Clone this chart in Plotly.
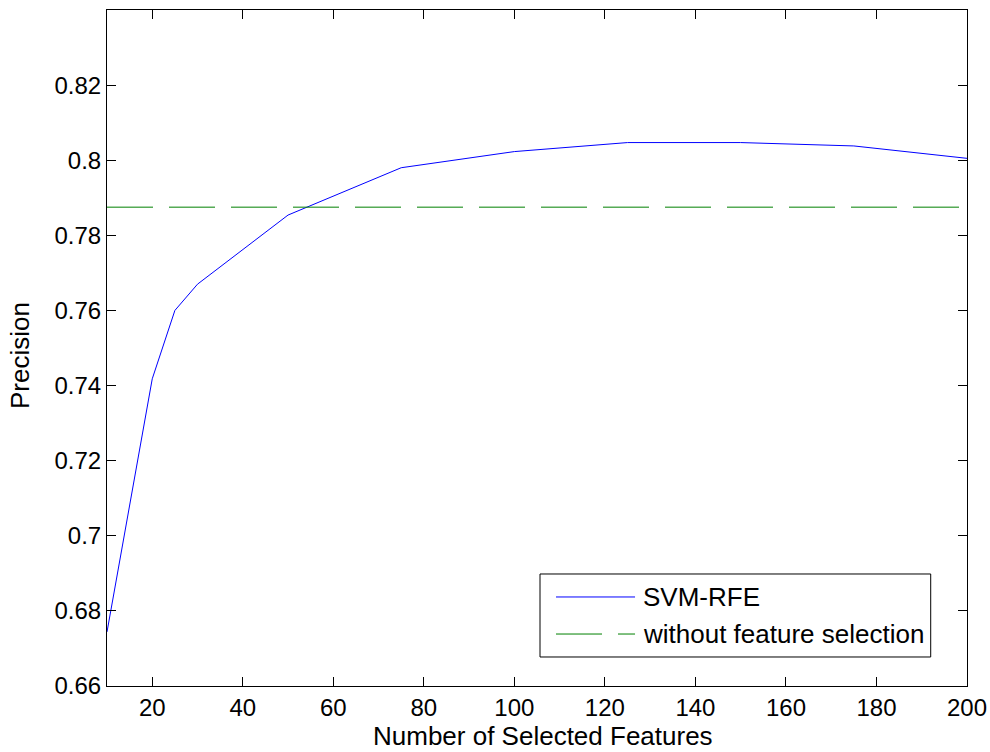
import plotly.graph_objects as go

# Feature-count sweep for SVM-RFE and the baseline precision without selection
n_features = [10, 20, 25, 30, 50, 75, 100, 125, 150, 175, 200]
svm_rfe_precision = [0.6744, 0.7418, 0.7600, 0.7670, 0.7854, 0.7980, 0.8023, 0.8047, 0.8047, 0.8038, 0.8005]
baseline_precision = 0.7875

x_ticks = [20, 40, 60, 80, 100, 120, 140, 160, 180, 200]
y_ticks = [0.66, 0.68, 0.70, 0.72, 0.74, 0.76, 0.78, 0.80, 0.82]
y_tick_labels = ["0.66", "0.68", "0.7", "0.72", "0.74", "0.76", "0.78", "0.8", "0.82"]

series_names = ["SVM-RFE", "without feature selection"]
series_colors = ["#0000ff", "#008000"]
series_dash = ["solid", "46px,16px"]

x_title = "Number of Selected Features"
y_title = "Precision"

FONT = "Liberation Sans, Arial, Helvetica, sans-serif"
TEXT_FONT = dict(family=FONT, size=26, color="black")

fig = go.Figure()
fig.add_trace(go.Scatter(
    x=n_features, y=svm_rfe_precision, mode="lines", name=series_names[0],
    line=dict(color=series_colors[0], width=1),
))
fig.add_trace(go.Scatter(
    x=[n_features[0], n_features[-1]], y=[baseline_precision, baseline_precision],
    mode="lines", name=series_names[1],
    line=dict(color=series_colors[1], width=1, dash=series_dash[1]),
))

axis_common = dict(
    showline=True, linecolor="black", linewidth=1, mirror="allticks",
    ticks="inside", ticklen=9, tickcolor="black", tickwidth=1,
    showgrid=False, zeroline=False, automargin=False,
    tickfont=dict(family=FONT, size=24, color="black"),
)

fig.update_xaxes(range=[10, 200], tickvals=x_ticks, **axis_common)
fig.update_yaxes(range=[0.66, 0.84], tickvals=y_ticks, ticktext=y_tick_labels, **axis_common)

# Axis titles
annotations = [
    dict(text=x_title, xref="paper", yref="paper", x=0.5064, y=-0.0976, borderpad=0,
         xanchor="center", yanchor="bottom", showarrow=False, font=TEXT_FONT),
    dict(text=y_title, xref="paper", yref="paper", x=-0.1012, y=0.4896, textangle=-90,
         xanchor="center", yanchor="middle", showarrow=False, font=TEXT_FONT),
]

# Boxed legend in the lower right of the axes
legend_box = dict(x0=0.5035, x1=0.9578, y0=0.0429, y1=0.1657)
legend_rows_y = [0.1317, 0.0769]
legend_line_x = [0.5221, 0.6140]
legend_text_x = 0.6209

shapes = [dict(type="rect", xref="paper", yref="paper", **legend_box,
               line=dict(color="black", width=1), fillcolor="white", layer="above")]
for name, color, dash, ry in zip(series_names, series_colors, series_dash, legend_rows_y):
    shapes.append(dict(type="line", xref="paper", yref="paper",
                       x0=legend_line_x[0], x1=legend_line_x[1], y0=ry, y1=ry,
                       line=dict(color=color, width=1, dash=dash), layer="above"))
    annotations.append(dict(text=name, xref="paper", yref="paper", x=legend_text_x, y=ry,
                            xanchor="left", yanchor="middle", showarrow=False, font=TEXT_FONT))

fig.update_layout(
    width=990, height=752, autosize=False,
    margin=dict(l=107, r=23, t=10, b=66),
    paper_bgcolor="white", plot_bgcolor="white",
    showlegend=False,
    shapes=shapes, annotations=annotations,
)

fig.write_html("out.html")
